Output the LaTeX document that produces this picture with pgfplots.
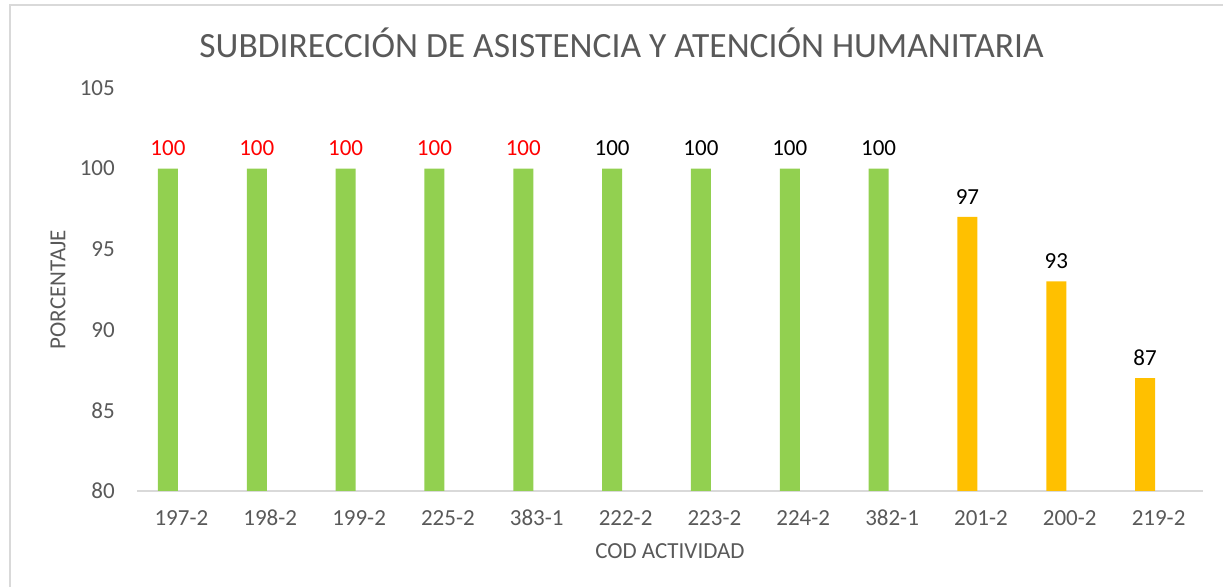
\documentclass[border=0pt]{standalone}
\usepackage{pgfplots}
\pgfplotsset{compat=1.18}
\usepackage{fontspec}
\setmainfont{Carlito}
\definecolor{bargreen}{HTML}{92D050}
\definecolor{barorange}{HTML}{FFC000}
\definecolor{txtgray}{HTML}{595959}
\definecolor{linegray}{HTML}{D9D9D9}
\begin{document}
\begin{tikzpicture}
\path[use as bounding box] (0,0) rectangle (1223bp,587bp);
\draw[linegray, line width=2bp] (10bp,0) -- (10bp,582bp) -- (1223bp,582bp);
\node[txtgray, font=\fontsize{35.5bp}{42bp}\selectfont] at (621.5bp,544bp) {SUBDIRECCIÓN DE ASISTENCIA Y ATENCIÓN HUMANITARIA};
\begin{axis}[
  at={(137bp,96bp)}, anchor=south west,
  scale only axis, width=1066bp, height=403bp,
  xmin=-0.5, xmax=11.5, ymin=80, ymax=105,
  ytick={80,85,90,95,100,105},
  xtick={0,...,11},
  xticklabels={197-2,198-2,199-2,225-2,383-1,222-2,223-2,224-2,382-1,201-2,200-2,219-2},
  axis x line*=bottom, axis y line*=left,
  x axis line style={linegray, line width=1.5bp, -},
  y axis line style={draw=none, -},
  major tick length=0pt,
  tick label style={txtgray, font=\fontsize{23bp}{28bp}\selectfont},
  /pgf/number format/assume math mode=true,
  xticklabel style={anchor=base, yshift=-35bp},
  yticklabel style={anchor=east, inner sep=0pt, xshift=-22bp},
  xlabel={COD ACTIVIDAD}, ylabel={PORCENTAJE},
  label style={txtgray, font=\fontsize{23bp}{28bp}\selectfont},
  xlabel style={at={(axis description cs:0.5,0)}, anchor=center, yshift=-60bp},
  ylabel style={at={(axis description cs:0,0.5)}, anchor=center, yshift=79bp},
  ybar, bar width=20bp, bar shift=-13.5bp,
  nodes near coords,
  nodes near coords style={anchor=south, yshift=9bp, font=\fontsize{23bp}{28bp}\selectfont, /pgf/number format/assume math mode=true},
  clip=false,
]
\addplot[fill=bargreen, draw=none, nodes near coords style={red}] coordinates {(0,100) (1,100) (2,100) (3,100) (4,100)};
\addplot[fill=bargreen, draw=none, nodes near coords style={black}] coordinates {(5,100) (6,100) (7,100) (8,100)};
\addplot[fill=barorange, draw=none, nodes near coords style={black}] coordinates {(9,97) (10,93) (11,87)};
\end{axis}
\end{tikzpicture}
\end{document}
